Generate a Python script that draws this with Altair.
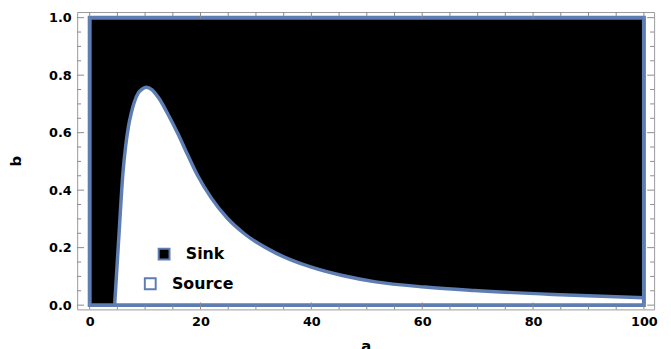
import altair as alt
import pandas as pd

# boundary curve between Source (below) and Sink (above)
a_vals = [4.5, 5.3, 6.0, 6.5, 7.0, 7.5, 8.0, 8.8, 9.5, 10.2, 11.2, 12.4, 14.1, 15.9, 17.7,
          19.5, 21.9, 24.8, 27.8, 33.7, 40.0, 45.6, 51.6, 60.5, 69.4, 83.6, 100.0]
b_vals = [0.0, 0.25, 0.46, 0.555, 0.622, 0.668, 0.703, 0.739, 0.752, 0.758, 0.750, 0.722, 0.665, 0.597, 0.522,
          0.450, 0.374, 0.303, 0.250, 0.180, 0.132, 0.103, 0.081, 0.063, 0.051, 0.037, 0.026]

region_a = [0, 100]
region_b = [0, 1]

x_major = [0, 20, 40, 60, 80, 100]
x_minor = [5, 10, 15, 25, 30, 35, 45, 50, 55, 65, 70, 75, 85, 90, 95]
y_major = [0.0, 0.2, 0.4, 0.6, 0.8, 1.0]
y_minor = [0.05, 0.1, 0.15, 0.25, 0.3, 0.35, 0.45, 0.5, 0.55, 0.65, 0.7, 0.75, 0.85, 0.9, 0.95]

W, H = 584, 301
BLUE = "#5d7db3"
TICK = "#8a8a8a"
FONT = "DejaVu Sans"

curve = pd.DataFrame({"a": a_vals, "b": b_vals, "region": "Source"})
rect = pd.DataFrame({"a": [region_a[0]], "a2": [region_a[1]], "b": [region_b[0]], "b2": [region_b[1]], "region": ["Sink"]})

xs = alt.Scale(domain=[-2.26, 101.84], nice=False, zero=False)
ys = alt.Scale(domain=[-0.0148, 1.0196], nice=False, zero=False)

xaxis = alt.Axis(values=x_major, format="d", title="a", grid=False, domain=False, ticks=False,
                 labelPadding=6, titlePadding=11)
yaxis = alt.Axis(values=y_major, format=".1f", title="b", grid=False, domain=False, ticks=False,
                 labelPadding=6, titlePadding=25)

def leg(x, y):
    return alt.Legend(orient="none", legendX=x, legendY=y, title=None, symbolType="square",
                      symbolSize=121, symbolStrokeColor=BLUE, symbolStrokeWidth=2, symbolOpacity=1,
                      labelFont=FONT, labelFontSize=16, labelFontWeight="bold", labelColor="black",
                      labelOffset=14, padding=0)

sink = alt.Chart(rect).mark_rect(stroke=None, strokeWidth=0).encode(
    x=alt.X("a:Q", scale=xs, axis=xaxis),
    x2="a2:Q",
    y=alt.Y("b:Q", scale=ys, axis=yaxis),
    y2="b2:Q",
    fill=alt.Fill("region:N", scale=alt.Scale(domain=["Sink"], range=["black"]), legend=leg(80, 237)),
)

source = alt.Chart(curve).mark_area(interpolate="monotone", opacity=1).encode(
    x="a:Q",
    y="b:Q",
    y2=alt.datum(0),
    fill=alt.Fill("region:N", scale=alt.Scale(domain=["Source"], range=["white"]), legend=leg(66, 267)),
)

line = alt.Chart(curve).mark_line(interpolate="monotone", color=BLUE, strokeWidth=3.5).encode(
    x="a:Q", y="b:Q"
)

outline = alt.Chart(rect).mark_rect(fill="transparent", stroke=BLUE, strokeWidth=4).encode(
    x="a:Q", x2="a2:Q", y="b:Q", y2="b2:Q"
)

xmaj = pd.DataFrame({"a": x_major})
xmin = pd.DataFrame({"a": x_minor})
ymaj = pd.DataFrame({"b": y_major})
ymin = pd.DataFrame({"b": y_minor})

def xticks(df, L):
    top = alt.Chart(df).mark_rule(color=TICK, strokeWidth=1).encode(x="a:Q", y=alt.value(0), y2=alt.value(L))
    bot = alt.Chart(df).mark_rule(color=TICK, strokeWidth=1).encode(x="a:Q", y=alt.value(H - L), y2=alt.value(H))
    return [top, bot]

def yticks(df, L):
    left = alt.Chart(df).mark_rule(color=TICK, strokeWidth=1).encode(y="b:Q", x=alt.value(0), x2=alt.value(L))
    right = alt.Chart(df).mark_rule(color=TICK, strokeWidth=1).encode(y="b:Q", x=alt.value(W - L), x2=alt.value(W))
    return [left, right]

tick_layers = xticks(xmaj, 7) + xticks(xmin, 4) + yticks(ymaj, 7) + yticks(ymin, 4)

chart = alt.layer(sink, source, line, outline, *tick_layers).resolve_scale(
    fill="independent"
).properties(
    width=W, height=H,
    autosize=alt.AutoSizeParams(type="none"),
    padding={"left": 70, "top": 2, "right": 9, "bottom": 38},
    background="white",
).configure_view(
    stroke="#9a9a9a", strokeWidth=1
).configure_axis(
    labelFont=FONT, labelFontSize=13, labelFontWeight="bold", labelColor="black",
    titleFont=FONT, titleFontSize=15, titleFontWeight="bold", titleColor="black",
)

chart.save("out.html", embed_options={"renderer": "svg", "actions": False})
